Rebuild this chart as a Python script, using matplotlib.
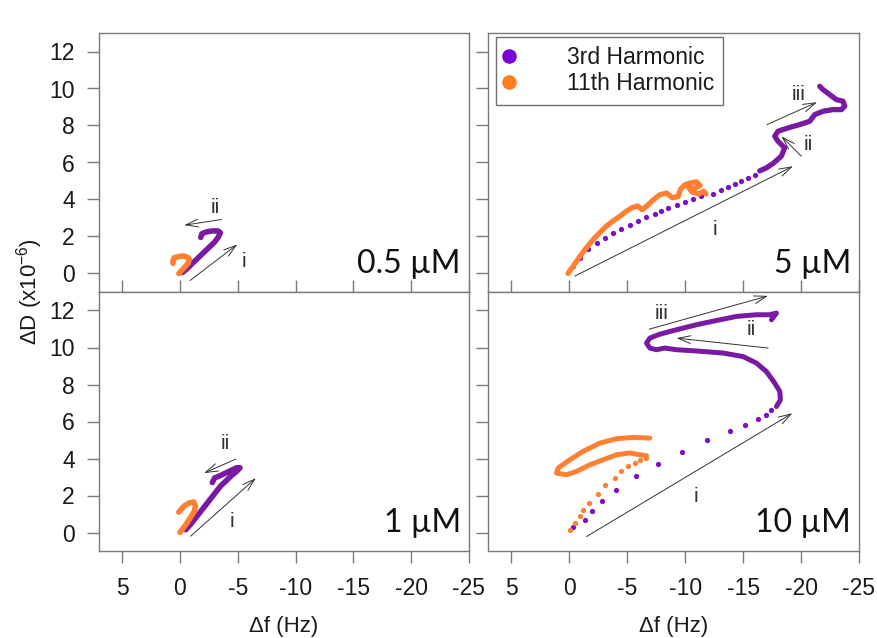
import matplotlib
matplotlib.use("Agg")
import matplotlib.pyplot as plt

plt.rcParams['font.family'] = ['Liberation Sans', 'DejaVu Sans']
plt.rcParams['mathtext.default'] = 'regular'
plt.rcParams['axes.unicode_minus'] = False

PURPLE = '#7a12c4'
PURPLE_DARK = '#7a1aa2'
ORANGE = '#ff8033'

# ---- data: (delta f [Hz], delta D [x1e-6]) ----
# 0.5 uM
p05_x = [-0.2, -0.6, -1.0, -1.5, -2.0, -2.5, -3.0, -3.3, -3.5, -3.3, -2.8, -2.3, -1.9, -1.8]
p05_y = [0.05, 0.25, 0.5, 0.8, 1.1, 1.4, 1.7, 1.95, 2.2, 2.3, 2.3, 2.25, 2.15, 1.95]
o05_x = [0.1, -0.2, -0.5, -0.75, -0.8, -0.6, -0.2, 0.2, 0.5, 0.6, 0.6]
o05_y = [0.0, 0.2, 0.4, 0.6, 0.8, 0.9, 0.95, 0.9, 0.85, 0.7, 0.55]

# 1 uM
p1_x = [-0.5, -1.0, -1.5, -2.0, -2.5, -3.0, -3.5, -4.0, -4.5, -4.9, -5.2,
        -4.9, -4.4, -3.9, -3.4, -3.0, -2.8]
p1_y = [0.15, 0.5, 0.9, 1.3, 1.7, 2.1, 2.5, 2.8, 3.1, 3.3, 3.5,
        3.5, 3.35, 3.2, 3.05, 2.95, 2.7]
o1_x = [0.0, -0.3, -0.6, -0.9, -1.2, -1.35, -1.2, -0.8, -0.4, -0.1, 0.1]
o1_y = [0.0, 0.25, 0.5, 0.8, 1.1, 1.4, 1.65, 1.6, 1.45, 1.25, 1.1]

# 5 uM
p5_dot_x = [-0.34, -0.92, -1.64, -2.36, -3.08, -3.79, -4.51, -5.23, -5.95, -6.67,
            -7.39, -7.96, -8.54, -9.26, -9.97, -10.69, -11.41, -12.41, -13.13,
            -13.71, -14.28, -14.86, -15.43, -16.01]
p5_dot_y = [0.39, 0.85, 1.3, 1.66, 1.93, 2.2, 2.41, 2.63, 2.83, 3.04,
            3.24, 3.39, 3.55, 3.71, 3.86, 4.0, 4.18, 4.32, 4.5,
            4.68, 4.84, 5.0, 5.15, 5.3]
p5_x = [-16.44, -17.01, -17.59, -18.3, -18.59, -18.01, -17.73, -18.01, -18.88, -19.89,
        -20.75, -21.18, -21.9, -22.76, -23.48, -23.77, -23.63, -23.05, -22.47, -21.9, -21.61]
p5_y = [5.55, 5.71, 5.95, 6.34, 6.79, 7.15, 7.42, 7.69, 7.87, 8.05,
        8.23, 8.59, 8.77, 8.86, 8.86, 9.04, 9.31, 9.4, 9.67, 9.94, 10.12]
o5_x = [0.1, -0.4, -0.9, -1.5, -2.1, -2.7, -3.2, -3.8, -4.4, -4.9, -5.4, -5.9, -6.3,
        -6.7, -7.2, -7.8, -8.4, -8.9, -9.4, -9.6, -10.0, -10.5, -11.0, -11.3, -10.8,
        -10.3, -10.6, -11.2, -11.6, -11.8]
o5_y = [0.0, 0.45, 0.9, 1.4, 1.85, 2.25, 2.55, 2.85, 3.1, 3.35, 3.55, 3.65, 3.45,
        3.65, 3.95, 4.25, 4.35, 4.1, 4.15, 4.55, 4.8, 4.9, 4.95, 4.75, 4.6,
        4.65, 4.4, 4.3, 4.45, 4.3]

# 10 uM
p10_dot_x = [-0.35, -1.35, -1.93, -2.79, -4.08, -5.75, -7.67, -9.77, -11.93, -13.85,
             -15.15, -16.29, -16.95, -17.45]
p10_dot_y = [0.32, 0.69, 1.14, 1.68, 2.31, 3.03, 3.71, 4.35, 5.01, 5.46,
             5.82, 6.13, 6.36, 6.63]
p10_x = [-17.88, -18.22, -18.17, -17.73, -17.01, -16.15, -15.0, -13.28, -11.27, -9.26,
         -8.25, -7.53, -6.96, -6.67, -6.96, -7.82, -9.26, -10.98, -12.71, -14.43,
         -16.15, -17.3, -17.88, -17.45]
p10_y = [6.81, 7.17, 7.62, 8.08, 8.7, 9.16, 9.51, 9.7, 9.8, 9.88,
         9.97, 9.88, 9.97, 10.24, 10.51, 10.72, 10.96, 11.23, 11.46, 11.68,
         11.77, 11.77, 11.86, 11.5]
o10_dot_x = [-0.06, -0.49, -0.92, -1.21, -1.73, -2.5, -3.08, -3.94, -4.51, -5.09,
             -5.66, -6.09, -6.67]
o10_dot_y = [0.15, 0.51, 0.87, 1.23, 1.62, 2.1, 2.58, 2.94, 3.3, 3.57,
             3.75, 3.9, 4.02]
o10_x = [-6.67, -6.09, -5.23, -4.08, -2.93, -1.79, -0.63, 0.23, 1.09, 0.95,
         -0.06, -1.21, -2.65, -4.08, -5.52, -6.95]
o10_y = [4.15, 4.2, 4.3, 4.2, 3.93, 3.66, 3.3, 3.12, 3.21, 3.48,
         3.93, 4.39, 4.83, 5.07, 5.14, 5.1]

# arrows: (x_start, y_start, x_end, y_end) and labels (text, x, y)
arrows_05 = [(-0.87, -0.38, -4.96, 1.57), (-3.6, 2.92, -0.37, 2.61)]
labels_05 = [('i', -5.5, 0.67), ('ii', -3.03, 3.57)]
arrows_1 = [(-0.92, -0.2, -6.57, 2.94), (-4.84, 3.97, -2.08, 3.21)]
labels_1 = [('i', -4.47, 0.6), ('ii', -3.9, 4.83)]
arrows_5 = [(-0.49, -0.14, -19.31, 5.8), (-20.03, 6.34, -18.3, 7.42),
            (-17.07, 8.05, -21.38, 9.26)]
labels_5 = [('i', -12.56, 2.38), ('ii', -20.6, 6.97), ('iii', -19.8, 9.68)]
arrows_10 = [(-1.5, -0.22, -19.26, 6.45), (-17.16, 9.97, -9.26, 10.51),
             (-6.9, 10.99, -17.16, 12.79)]
labels_10 = [('i', -10.9, 1.95), ('ii', -15.72, 10.96), ('iii', -7.96, 11.86)]

xticks = [5, 0, -5, -10, -15, -20, -25]
yticks = [0, 2, 4, 6, 8, 10, 12]

fig = plt.figure(figsize=(8.77, 6.38), dpi=100)
W, H = 877, 638


def add_ax(x0, y0, x1, y1):
    return fig.add_axes([x0 / W, 1 - y1 / H, (x1 - x0) / W, (y1 - y0) / H])


ax_tl = add_ax(99, 33, 469, 292)
ax_tr = add_ax(488, 33, 859, 292)
ax_bl = add_ax(99, 292, 469, 551)
ax_br = add_ax(488, 292, 859, 551)


def style(ax, top, left):
    ax.set_xlim(7, -25)
    ax.set_ylim(-1, 13)
    ax.set_xticks(xticks)
    ax.set_yticks(yticks)
    for s in ax.spines.values():
        s.set_color('#7a7a7a')
        s.set_linewidth(1.0)
    ax.tick_params(colors='#7a7a7a', labelcolor='#1a1a1a', labelsize=16.5,
                   length=8.5, width=1.0)
    ax.tick_params(axis='x', direction='in' if top else 'out',
                   labelbottom=not top, pad=10)
    ax.tick_params(axis='y', direction='out', labelleft=left, pad=9)
    if not top:
        ax.set_xlabel('Δf (Hz)', fontsize=16, color='#1a1a1a', labelpad=12)


def draw(ax, p_line, o_line, p_dots=None, o_dots=None, lw=3.0):
    if p_dots:
        ax.plot(p_dots[0], p_dots[1], 'o', ms=3.8, color=PURPLE, mew=0)
    ax.plot(p_line[0], p_line[1], '-', lw=lw, color=PURPLE_DARK,
            solid_capstyle='round', solid_joinstyle='round')
    if o_dots:
        ax.plot(o_dots[0], o_dots[1], 'o', ms=3.8, color=ORANGE, mew=0)
    ax.plot(o_line[0], o_line[1], '-', lw=lw, color=ORANGE,
            solid_capstyle='round', solid_joinstyle='round')


def annotate(ax, arrows, labels):
    for x0, y0, x1, y1 in arrows:
        ax.annotate('', xy=(x1, y1), xytext=(x0, y0), annotation_clip=False,
                    arrowprops=dict(arrowstyle='->,head_length=0.9,head_width=0.28',
                                    lw=0.7, color='#333333', mutation_scale=10,
                                    shrinkA=0, shrinkB=0))
    for t, x, y in labels:
        ax.text(x, y, t, fontsize=15, color='#333333', ha='center', va='center')


style(ax_tl, True, True)
style(ax_tr, True, False)
style(ax_bl, False, True)
style(ax_br, False, False)

draw(ax_tl, (p05_x, p05_y), (o05_x, o05_y), lw=4.0)
draw(ax_bl, (p1_x, p1_y), (o1_x, o1_y), lw=4.0)
draw(ax_tr, (p5_x, p5_y), (o5_x, o5_y), (p5_dot_x, p5_dot_y), lw=3.8)
draw(ax_br, (p10_x, p10_y), (o10_x, o10_y), (p10_dot_x, p10_dot_y),
     (o10_dot_x, o10_dot_y), lw=3.6)

annotate(ax_tl, arrows_05, labels_05)
annotate(ax_bl, arrows_1, labels_1)
annotate(ax_tr, arrows_5, labels_5)
annotate(ax_br, arrows_10, labels_10)

for ax, lab in [(ax_tl, '0.5 µM'), (ax_bl, '1 µM'), (ax_tr, '5 µM'), (ax_br, '10 µM')]:
    ax.text(0.978, 0.075, lab, transform=ax.transAxes, ha='right', va='baseline',
            fontsize=23, family=['Lato', 'DejaVu Sans'], color='#111111')

# legend
h1, = ax_tr.plot([], [], 'o', ms=10.5, color='#7b00d6', mew=0)
h2, = ax_tr.plot([], [], 'o', ms=10.5, color='#ff7f1e', mew=0)
leg = ax_tr.legend([h1, h2], ['3rd Harmonic', '11th Harmonic'], loc='upper left',
                   bbox_to_anchor=(0.0216, 0.985), borderaxespad=0, fontsize=16.5,
                   handlelength=0.3, handletextpad=2.4, borderpad=0.4,
                   labelspacing=0.15, fancybox=False, framealpha=1,
                   edgecolor='#707070')
leg.get_frame().set_linewidth(1.0)
for t in leg.get_texts():
    t.set_color('#1a1a1a')

fig.text(30 / W, 1 - 292 / H, 'ΔD (x10$^{-6}$)', rotation=90, ha='center',
         va='center', fontsize=16, color='#1a1a1a')

fig.savefig('out.png', dpi=100)
